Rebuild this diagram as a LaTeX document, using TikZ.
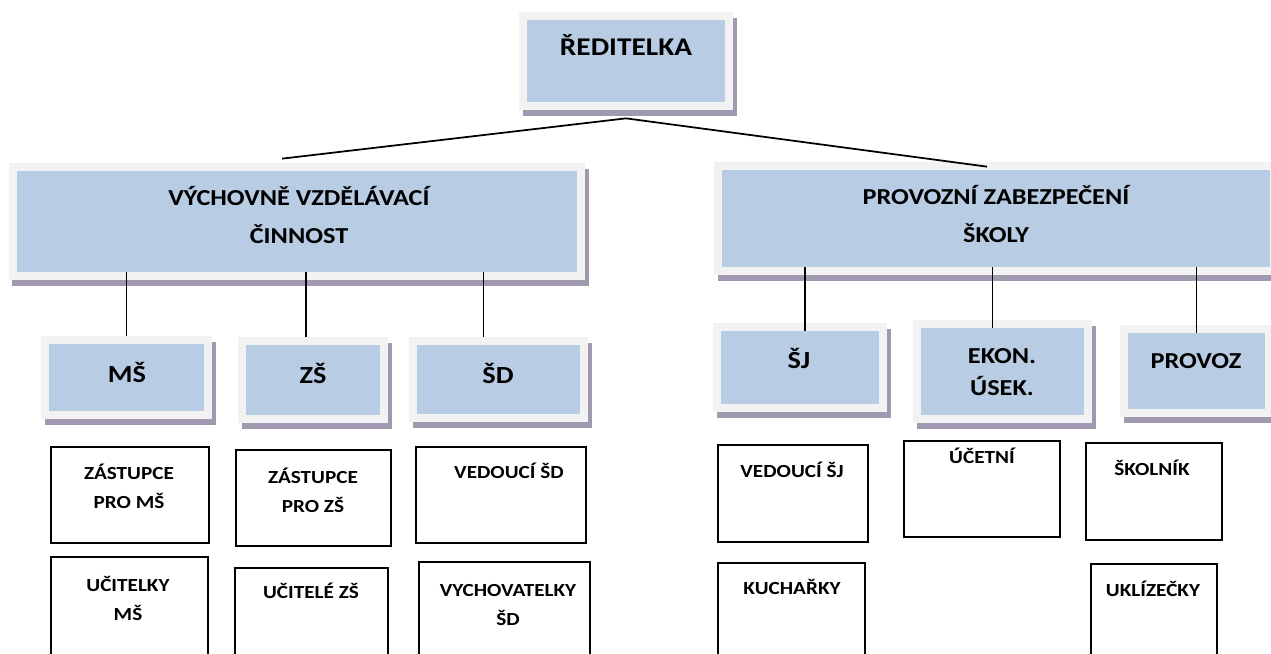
\documentclass[tikz,border=0pt]{standalone}
\usepackage{fontspec}
\setmainfont{Carlito}[FakeStretch=1.15]
\usetikzlibrary{fit,calc,shadows}
\definecolor{boxblue}{HTML}{B8CCE4}
\definecolor{framegray}{HTML}{F2F2F2}
\definecolor{shadowgray}{RGB}{160,153,175}
\tikzset{
  link/.style={line width=1pt},
  bluebox/.style={fill=framegray, inner sep=0pt,
    drop shadow={shadow xshift=0.07cm, shadow yshift=-0.12cm, fill=shadowgray, opacity=1},
    path picture={\fill[boxblue] ([shift={(0.16cm,0.16cm)}]path picture bounding box.south west)
      rectangle ([shift={(-0.16cm,-0.16cm)}]path picture bounding box.north east);}},
  wbox/.style={draw, line width=0.9pt, inner sep=0pt},
  headtxt/.style={anchor=base, font=\bfseries\fontsize{14.5}{17}\selectfont},
  maintxt/.style={anchor=base, align=center, font=\bfseries\fontsize{13}{21.6}\selectfont},
  subtxt/.style={anchor=base, align=center, font=\bfseries\fontsize{14}{18}\selectfont},
  subtxtb/.style={anchor=base, align=center, font=\bfseries\fontsize{13}{18.2}\selectfont},
  smalltxt/.style={anchor=base, align=center, font=\bfseries\fontsize{10.5}{16.5}\selectfont}
}
\begin{document}
\begin{tikzpicture}[x=0.02cm,y=-0.02cm]
\fill[white] (0,0) rectangle (1271,653);
\useasboundingbox (0,0) rectangle (1271,653);
\clip (0,0) rectangle (1271,653);

% top
\node[bluebox, fit={(519,12) (733,110)}] (red) {};
\node[headtxt] (red-t) at (626,55) {ŘEDITELKA};

% two main parts (base = last line)
\node[bluebox, fit={(9,163) (585,280)}] (vv) {};
\node[maintxt] (vv-t) at (299,243) {VÝCHOVNĚ VZDĚLÁVACÍ\\ČINNOST};
\node[bluebox, fit={(714,162) (1278,275)}] (pz) {};
\node[maintxt] (pz-t) at (996,242) {PROVOZNÍ ZABEZPEČENÍ\\ŠKOLY};

% units
\node[bluebox, fit={(41,336) (212,419)}] (ms) {};
\node[subtxt] (ms-t) at (127,382) {MŠ};
\node[bluebox, fit={(238,337) (388,423)}] (zs) {};
\node[subtxt] (zs-t) at (313,383) {ZŠ};
\node[bluebox, fit={(409,337) (588,422)}] (sd) {};
\node[subtxt] (sd-t) at (498,383) {ŠD};
\node[bluebox, fit={(713,323) (887,412)}] (sj) {};
\node[subtxt] (sj-t) at (799,368) {ŠJ};
\node[bluebox, fit={(913,320) (1092,423)}] (ek) {};
\node[subtxtb] (ek-t) at (1002,395) {EKON.\\ÚSEK.};
\node[bluebox, fit={(1120,325) (1273,417)}] (pv) {};
\node[subtxtb] (pv-t) at (1196,368) {PROVOZ};

% staff
\node[wbox, fit={(51,447) (209,543)}] (zms) {};
\node[smalltxt] (zms-t) at (129,508) {ZÁSTUPCE\\PRO MŠ};
\node[wbox, fit={(51,557) (208,665)}] (ums) {};
\node[smalltxt] (ums-t) at (128,620) {UČITELKY\\MŠ};
\node[wbox, fit={(236,450) (391,546)}] (zzs) {};
\node[smalltxt] (zzs-t) at (313,512) {ZÁSTUPCE\\PRO ZŠ};
\node[wbox, fit={(235,568) (388,665)}] (uzs) {};
\node[smalltxt] (uzs-t) at (311,598) {UČITELÉ ZŠ};
\node[wbox, fit={(416,447) (586,543)}] (vsd) {};
\node[smalltxt] (vsd-t) at (509,478) {VEDOUCÍ ŠD};
\node[wbox, fit={(419,562) (590,665)}] (ysd) {};
\node[smalltxt] (ysd-t) at (508,625) {VYCHOVATELKY\\ŠD};
\node[wbox, fit={(718,445) (868,542)}] (vsj) {};
\node[smalltxt] (vsj-t) at (792,477) {VEDOUCÍ ŠJ};
\node[wbox, fit={(718,563) (865,665)}] (kuch) {};
\node[smalltxt] (kuch-t) at (792,594) {KUCHAŘKY};
\node[wbox, fit={(904,441) (1060,537)}] (uc) {};
\node[smalltxt] (uc-t) at (982,463) {ÚČETNÍ};
\node[wbox, fit={(1086,443) (1222,540)}] (sk) {};
\node[smalltxt] (sk-t) at (1152,475) {ŠKOLNÍK};
\node[wbox, fit={(1091,564) (1217,665)}] (ukl) {};
\node[smalltxt] (ukl-t) at (1153,596) {UKLÍZEČKY};

% connectors
\draw[link] ($(red.south)+(0,8)$) -- ($(vv.north)+(-15,-4)$);
\draw[link] ($(red.south)+(0,8)$) -- ($(pz.north)+(-9,5)$);
\draw[link] (ms.north) -- ($(ms.north |- vv.south)+(0,-8)$);
\draw[link] ($(zs.north)+(-7,0)$) -- ($(zs.north |- vv.south)+(-7,-8)$);
\draw[link] ($(sd.north)+(-15,0)$) -- ($(sd.north |- vv.south)+(-15,-8)$);
\draw[link] ($(sj.north)+(5,8)$) -- ($(sj.north |- pz.south)+(5,-8)$);
\draw[link] ($(ek.north)+(-10,8)$) -- ($(ek.north |- pz.south)+(-10,-8)$);
\draw[link] ($(pv.north)+(0,8)$) -- ($(pv.north |- pz.south)+(0,-8)$);
\end{tikzpicture}
\end{document}
